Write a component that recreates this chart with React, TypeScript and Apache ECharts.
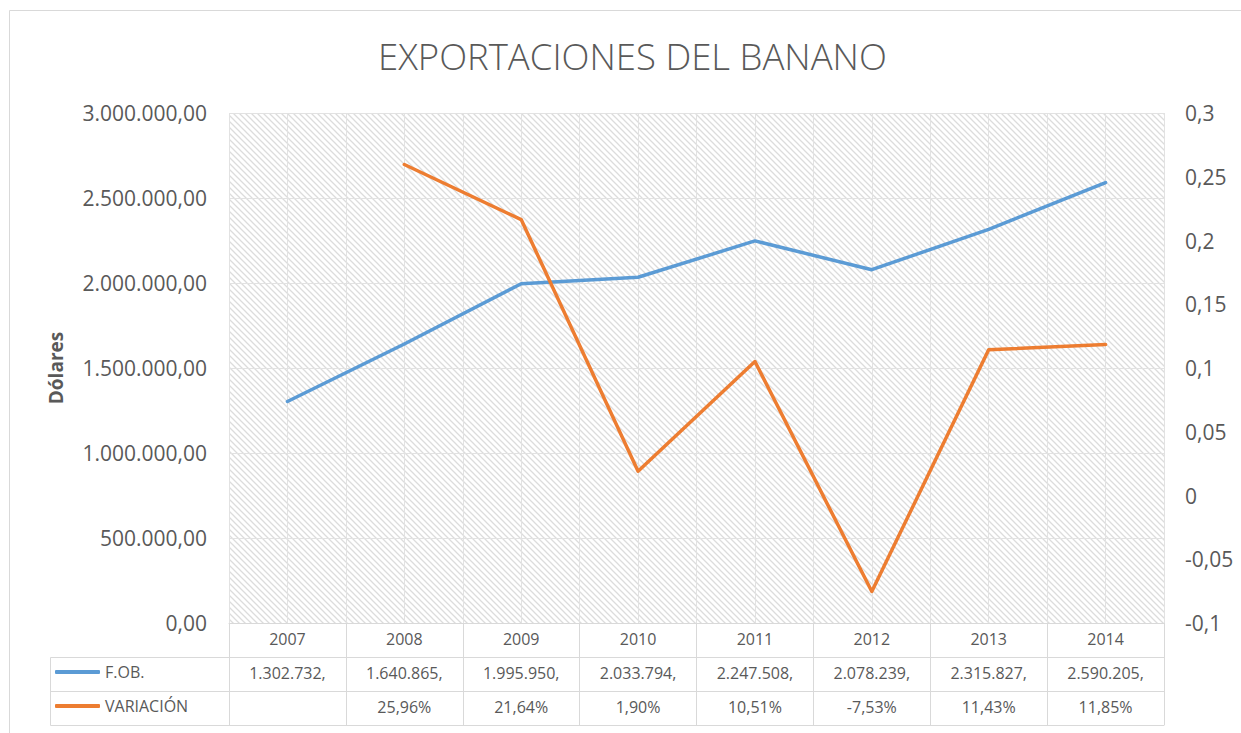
import React, { useEffect, useRef } from "react";
import * as echarts from "echarts";

const years = ["2007", "2008", "2009", "2010", "2011", "2012", "2013", "2014"];
const fobValues = [1302732, 1640865, 1995950, 2033794, 2247508, 2078239, 2315827, 2590205];
const variationValues: (number | null)[] = [null, 0.2596, 0.2164, 0.019, 0.1051, -0.0753, 0.1143, 0.1185];
const fobLabels = ["1.302.732,", "1.640.865,", "1.995.950,", "2.033.794,", "2.247.508,", "2.078.239,", "2.315.827,", "2.590.205,"];
const variationLabels = ["", "25,96%", "21,64%", "1,90%", "10,51%", "-7,53%", "11,43%", "11,85%"];

const FONT = "'Open Sans', 'Noto Sans', sans-serif";
const TEXT = "#595959";
const LINE = "#d9d9d9";

function fmtLeft(v: number): string {
  const s = Math.round(v).toString().replace(/\B(?=(\d{3})+(?!\d))/g, ".");
  return s + ",00";
}
function fmtRight(v: number): string {
  return parseFloat(v.toFixed(2)).toString().replace(".", ",");
}

function makePattern(): HTMLCanvasElement {
  const c = document.createElement("canvas");
  const n = 6;
  c.width = n;
  c.height = n;
  const ctx = c.getContext("2d")!;
  ctx.fillStyle = "#ffffff";
  ctx.fillRect(0, 0, n, n);
  ctx.strokeStyle = "#dcdcdc";
  ctx.lineWidth = 1.3;
  ctx.beginPath();
  ctx.moveTo(-1, -1);
  ctx.lineTo(n + 1, n + 1);
  ctx.moveTo(-1, n - 1);
  ctx.lineTo(1, n + 1);
  ctx.moveTo(n - 1, -1);
  ctx.lineTo(n + 1, 1);
  ctx.stroke();
  return c;
}

function tableAxis(data: string[], offset: number, showLabel: boolean, showTick: boolean) {
  return {
    type: "category",
    data,
    position: "bottom",
    offset,
    gridIndex: 0,
    axisLine: { show: true, onZero: false, lineStyle: { color: LINE, width: 1 } },
    axisTick: { show: showTick, length: 34, interval: 0, lineStyle: { color: LINE, width: 1 } },
    axisLabel: { show: showLabel, interval: 0, color: TEXT, fontSize: 16, fontFamily: FONT, margin: 8 },
    splitLine: { show: false },
  };
}

export default function App() {
  const ref = useRef<HTMLDivElement>(null);
  useEffect(() => {
    if (!ref.current) return;
    const chart = echarts.init(ref.current, undefined, { renderer: "svg" });
    const pattern = makePattern();
    chart.setOption({
      animation: false,
      backgroundColor: "#ffffff",
      title: {
        text: "EXPORTACIONES DEL BANANO",
        left: 378,
        top: 37,
        padding: 0,
        textStyle: { color: TEXT, fontSize: 36.5, fontWeight: 300, fontFamily: FONT },
      },
      legend: [
        {
          data: [{ name: "F.OB." }],
          left: 55,
          top: 664,
          padding: 0,
          icon: "roundRect",
          itemWidth: 45,
          itemHeight: 4,
          textStyle: { color: TEXT, fontSize: 16, fontFamily: FONT },
        },
        {
          data: [{ name: "VARIACIÓN" }],
          left: 55,
          top: 698,
          padding: 0,
          icon: "roundRect",
          itemWidth: 45,
          itemHeight: 4,
          textStyle: { color: TEXT, fontSize: 16, fontFamily: FONT },
        },
      ],
      grid: {
        left: 229,
        right: 77,
        top: 113,
        bottom: 110,
        show: true,
        borderWidth: 0,
        backgroundColor: { image: pattern, repeat: "repeat", imageWidth: 6, imageHeight: 6 },
      },
      xAxis: [
        tableAxis(years, 0, true, true),
        tableAxis(fobLabels, 34, true, true),
        tableAxis(variationLabels, 68, true, true),
        tableAxis(years, 102, false, false),
        {
          type: "value",
          gridIndex: 0,
          position: "top",
          min: 0,
          max: 16,
          interval: 1,
          axisLine: { show: false },
          axisTick: { show: false },
          axisLabel: { show: false },
          splitLine: { show: true, lineStyle: { color: "#e2e2e2", width: 1 } },
        },
      ],
      yAxis: [
        {
          type: "value",
          min: 0,
          max: 3000000,
          interval: 500000,
          name: "Dólares",
          nameLocation: "middle",
          nameRotate: 90,
          nameGap: 164,
          nameTextStyle: { color: TEXT, fontSize: 19, fontWeight: "bold", fontFamily: FONT },
          axisLine: { show: false },
          axisTick: { show: false },
          axisLabel: { color: TEXT, fontSize: 21, fontFamily: FONT, margin: 22, formatter: fmtLeft },
          splitLine: { show: true, lineStyle: { color: "#e2e2e2", width: 1 } },
        },
        {
          type: "value",
          position: "right",
          min: -0.1,
          max: 0.3,
          interval: 0.05,
          axisLine: { show: false },
          axisTick: { show: false },
          axisLabel: { color: TEXT, fontSize: 21, fontFamily: FONT, margin: 21, formatter: fmtRight },
          splitLine: { show: false },
        },
      ],
      series: [
        {
          name: "F.OB.",
          type: "line",
          xAxisIndex: 0,
          yAxisIndex: 0,
          data: fobValues,
          showSymbol: false,
          symbol: "none",
          lineStyle: { color: "#5b9bd5", width: 3.5, cap: "round", join: "round" },
          itemStyle: { color: "#5b9bd5" },
        },
        {
          name: "VARIACIÓN",
          type: "line",
          xAxisIndex: 0,
          yAxisIndex: 1,
          data: variationValues,
          showSymbol: false,
          symbol: "none",
          lineStyle: { color: "#ed7d31", width: 3.5, cap: "round", join: "round" },
          itemStyle: { color: "#ed7d31" },
        },
      ],
      graphic: [
        { type: "rect", shape: { x: 9.5, y: 10.5, width: 1300, height: 800 }, style: { fill: "none", stroke: "#d9d9d9", lineWidth: 1 }, silent: true },
        { type: "line", shape: { x1: 50.5, y1: 657.5, x2: 229, y2: 657.5 }, style: { stroke: LINE, lineWidth: 1 } },
        { type: "line", shape: { x1: 50.5, y1: 691.5, x2: 229, y2: 691.5 }, style: { stroke: LINE, lineWidth: 1 } },
        { type: "line", shape: { x1: 50.5, y1: 725.5, x2: 229, y2: 725.5 }, style: { stroke: LINE, lineWidth: 1 } },
        { type: "line", shape: { x1: 50.5, y1: 657.5, x2: 50.5, y2: 725.5 }, style: { stroke: LINE, lineWidth: 1 } },
      ],
    });
    return () => chart.dispose();
  }, []);
  return <div ref={ref} style={{ position: "fixed", left: 0, top: 0, width: 1241, height: 733 }} />;
}
